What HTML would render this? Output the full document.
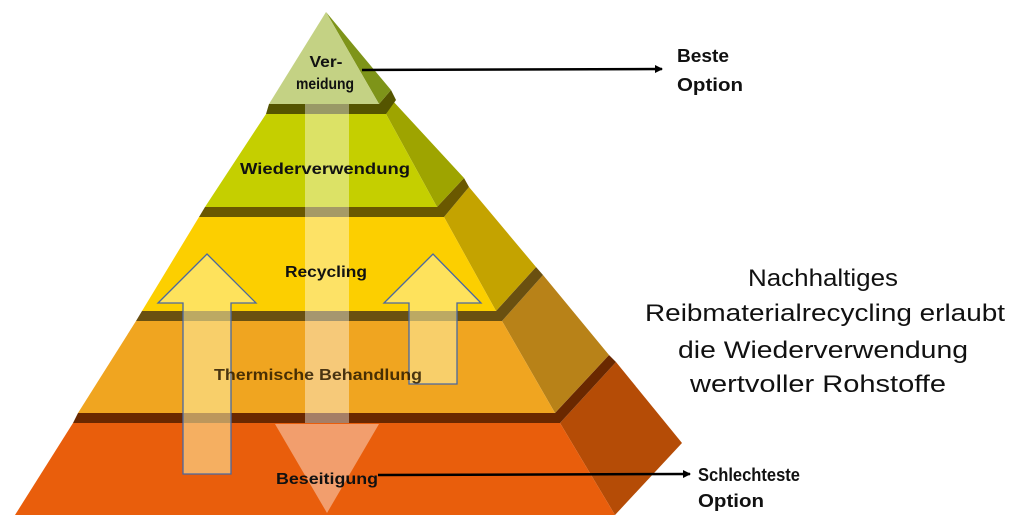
<!DOCTYPE html>
<html><head><meta charset="utf-8"><style>
html,body{margin:0;padding:0;background:#fff;}
svg{display:block;}
text{font-family:"Liberation Sans",sans-serif;}
</style></head><body>
<svg width="1024" height="522" viewBox="0 0 1024 522" xmlns="http://www.w3.org/2000/svg">
<defs>
<marker id="ah" markerWidth="8" markerHeight="8" refX="7" refY="4" orient="auto" markerUnits="userSpaceOnUse">
<path d="M0,0 L8,4 L0,8 z" fill="#000"/></marker>
</defs>
<!-- tier 5 -->
<polygon points="616,362 682,443 615,515 560,423" fill="#b54c06"/>
<polygon points="73,423 560,423 615,515 15,515" fill="#e95e0c"/>
<polygon points="78,413 555,413 609,355 616,362 560,423 73,423" fill="#6a2800"/>
<!-- tier 4 -->
<polygon points="543,275 609,355 555,413 502,321" fill="#b88218"/>
<polygon points="136,321 502,321 555,413 78,413" fill="#f0a520"/>
<polygon points="142,311 496,311 536,267 543,275 502,321 136,321" fill="#6a5010"/>
<!-- tier 3 -->
<polygon points="469,187 536,267 496,311 444,217" fill="#c4a300"/>
<polygon points="199,217 444,217 496,311 142,311" fill="#fccf00"/>
<polygon points="205,207 437,207 464,178 469,187 444,217 199,217" fill="#6a5800"/>
<!-- tier 2 -->
<polygon points="392,100 464,178 437,207 386,114" fill="#9ea400"/>
<polygon points="266,114 386,114 437,207 205,207" fill="#c5cf00"/>
<polygon points="269,104 379,104 391,90 396,100 386,114 266,114" fill="#555500"/>
<!-- top -->
<polygon points="326,12 391,90 379,104" fill="#7e9419"/>
<polygon points="326,12 379,104 269,104" fill="#c4d284"/>
<!-- central bar -->
<rect x="305" y="104" width="44" height="319" fill="#fff" fill-opacity="0.4"/>
<polygon points="275,424 379,424 327,513" fill="#fff" fill-opacity="0.4"/>
<!-- up arrows -->
<polygon points="207,254 256,303 231,303 231,474 183,474 183,303 158,303" fill="#fff3a8" fill-opacity="0.55" stroke="#4a68a0" stroke-width="1.3"/>
<polygon points="433,254 481,303 457,303 457,384 409,384 409,303 384,303" fill="#fff3a8" fill-opacity="0.55" stroke="#4a68a0" stroke-width="1.3"/>
<!-- labels -->
<g font-weight="bold" font-size="16" fill="#111" text-anchor="middle">
<text x="326" y="67" textLength="33" lengthAdjust="spacingAndGlyphs">Ver-</text>
<text x="325" y="89" textLength="58" lengthAdjust="spacingAndGlyphs">meidung</text>
<text x="325" y="174" textLength="170" lengthAdjust="spacingAndGlyphs">Wiederverwendung</text>
<text x="326" y="277" textLength="82" lengthAdjust="spacingAndGlyphs">Recycling</text>
<text x="318" y="380" textLength="208" lengthAdjust="spacingAndGlyphs" fill="#2a1a00" fill-opacity="0.85">Thermische Behandlung</text>
<text x="327" y="484" textLength="102" lengthAdjust="spacingAndGlyphs">Beseitigung</text>
</g>
<!-- connectors -->
<line x1="362" y1="70" x2="662" y2="69" stroke="#000" stroke-width="2.5" marker-end="url(#ah)"/>
<line x1="378" y1="475" x2="690" y2="474" stroke="#000" stroke-width="2.5" marker-end="url(#ah)"/>
<g font-weight="bold" font-size="18" fill="#111">
<text x="677" y="62" textLength="52" lengthAdjust="spacingAndGlyphs">Beste</text>
<text x="677" y="91" textLength="66" lengthAdjust="spacingAndGlyphs">Option</text>
<text x="698" y="481" textLength="102" lengthAdjust="spacingAndGlyphs">Schlechteste</text>
<text x="698" y="507" textLength="66" lengthAdjust="spacingAndGlyphs">Option</text>
</g>
<g font-size="24" fill="#111">
<text x="748" y="286" textLength="150" lengthAdjust="spacingAndGlyphs">Nachhaltiges</text>
<text x="645" y="321" textLength="360" lengthAdjust="spacingAndGlyphs">Reibmaterialrecycling erlaubt</text>
<text x="678" y="358" textLength="290" lengthAdjust="spacingAndGlyphs">die Wiederverwendung</text>
<text x="690" y="392" textLength="256" lengthAdjust="spacingAndGlyphs">wertvoller Rohstoffe</text>
</g>
</svg>
</body></html>
